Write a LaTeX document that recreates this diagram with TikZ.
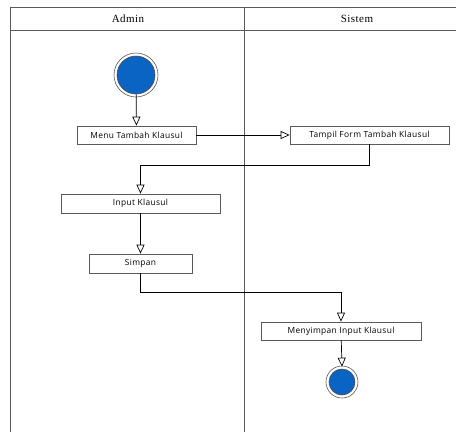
\documentclass[tikz,border=0pt]{standalone}
\usepackage{fontspec}
\setmainfont{Liberation Serif}
\newfontfamily\boxfont[LetterSpace=4]{Open Sans}
\newfontfamily\lanefont[LetterSpace=4]{Liberation Serif}
\usetikzlibrary{arrows.meta}
\definecolor{lanegray}{HTML}{5A5A5A}
\definecolor{startblue}{HTML}{0A64C4}
\tikzset{
	action/.style={draw=lanegray, line width=0.7pt, fill=white, minimum height=18pt, inner sep=0pt, font=\boxfont\fontsize{8.4}{10}\selectfont},
	flow/.style={draw=black, line width=0.7pt, -{Triangle[open, length=9pt, width=8pt]}},
	lane/.style={draw=lanegray, line width=0.9pt},
	lanehead/.style={font=\lanefont\fontsize{11}{13}\selectfont},
}
\begin{document}
\begin{tikzpicture}[x=1pt, y=-1pt]
	\useasboundingbox (0,0) rectangle (456,432);
	\fill[white] (0,0) rectangle (456,432);
	
	% swimlanes
	\draw[lane] (10,432) -- (10,7) -- (456,7);
	\draw[lane] (10,30) -- (456,30);
	\draw[lane] (244,7) -- (244,432);
	\node (admin) [lanehead] at (128,19) {Admin};
	\node (sistem) [lanehead] at (357,19) {Sistem};
	
	% start
	\draw[lanegray, line width=0.6pt] (136,75) circle (22);
	\node (start) [circle, draw=black!70, line width=0.6pt, fill=startblue, minimum size=38pt, inner sep=0pt] at (136,75) {};
	
	\node (menu) [action, minimum width=119pt] at (136.5,135) {Menu Tambah Klausul};
	\node (tampil) [action, minimum width=159pt] at (369.5,135) {Tampil Form Tambah Klausul};
	\node (input) [action, minimum width=159pt, minimum height=19pt] at (140.5,203.5) {Input Klausul};
	\node (simpan) [action, minimum width=103pt, minimum height=19pt] at (140.5,263.5) {Simpan};
	\node (menyimpan) [action, minimum width=160pt] at (341,331) {Menyimpan Input Klausul};
	
	% end
	\draw[lanegray, line width=0.6pt] (342,382) circle (16);
	\node (end) [circle, draw=black!70, line width=0.6pt, fill=startblue, minimum size=26pt, inner sep=0pt] at (342,382) {};
	
	\draw[flow] (start) -- (menu);
	\draw[flow] (menu) -- (tampil);
	\draw[flow] (tampil.south) -- ++(0,21) -| (input.north);
	\draw[flow] (input) -- (simpan);
	\draw[flow] (simpan.south) -- ++(0,19) -| (menyimpan.north);
	\draw[flow] (menyimpan) -- ([yshift=2pt]end.north);
\end{tikzpicture}
\end{document}
